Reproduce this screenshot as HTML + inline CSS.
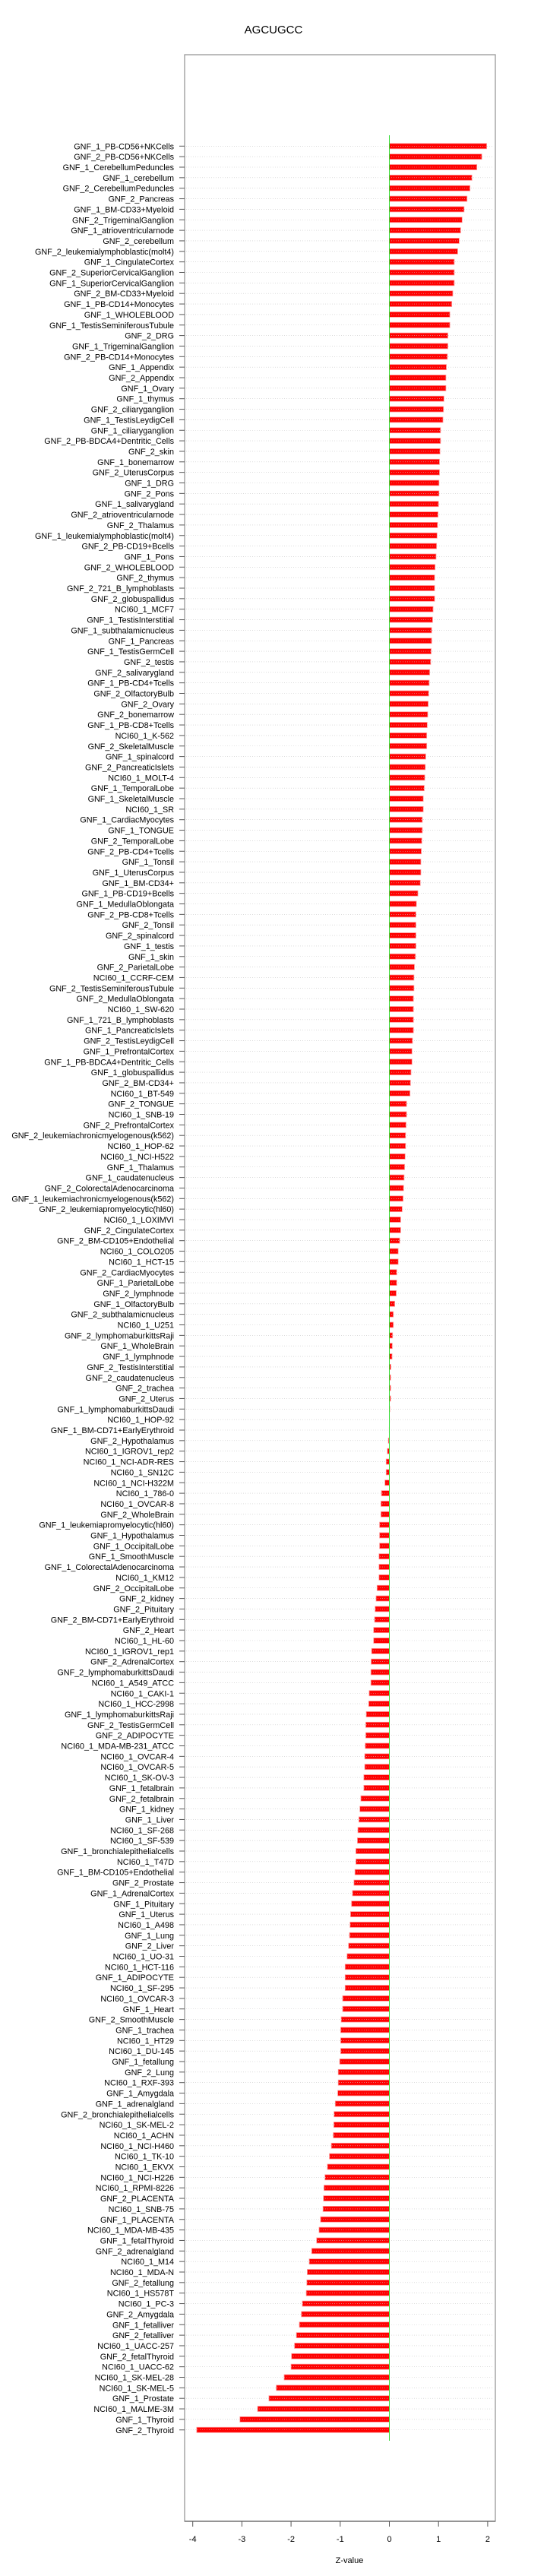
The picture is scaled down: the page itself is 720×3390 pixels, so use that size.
<!DOCTYPE html>
<html><head><meta charset="utf-8"><style>
html,body{margin:0;padding:0;background:#fff;}
svg{display:block;}
text{font-family:"Liberation Sans",sans-serif;}
</style></head><body>
<svg id="chart" width="720" height="3390" viewBox="0 0 720 3390" xmlns="http://www.w3.org/2000/svg">
<text x="360" y="44" text-anchor="middle" font-size="15">AGCUGCC</text>
<g id="plot"></g>
<text x="460" y="3373" text-anchor="middle" font-size="11">Z-value</text>
</svg>
<script>
const categories = ["GNF_1_PB-CD56+NKCells","GNF_2_PB-CD56+NKCells","GNF_1_CerebellumPeduncles","GNF_1_cerebellum","GNF_2_CerebellumPeduncles","GNF_2_Pancreas","GNF_1_BM-CD33+Myeloid","GNF_2_TrigeminalGanglion","GNF_1_atrioventricularnode","GNF_2_cerebellum","GNF_2_leukemialymphoblastic(molt4)","GNF_1_CingulateCortex",
"GNF_2_SuperiorCervicalGanglion","GNF_1_SuperiorCervicalGanglion","GNF_2_BM-CD33+Myeloid","GNF_1_PB-CD14+Monocytes","GNF_1_WHOLEBLOOD","GNF_1_TestisSeminiferousTubule","GNF_2_DRG","GNF_1_TrigeminalGanglion","GNF_2_PB-CD14+Monocytes","GNF_1_Appendix","GNF_2_Appendix","GNF_1_Ovary","GNF_1_thymus","GNF_2_ciliaryganglion","GNF_1_TestisLeydigCell","GNF_1_ciliaryganglion","GNF_2_PB-BDCA4+Dentritic_Cells","GNF_2_skin","GNF_1_bonemarrow",
"GNF_2_UterusCorpus","GNF_1_DRG","GNF_2_Pons","GNF_1_salivarygland","GNF_2_atrioventricularnode","GNF_2_Thalamus","GNF_1_leukemialymphoblastic(molt4)","GNF_2_PB-CD19+Bcells","GNF_1_Pons","GNF_2_WHOLEBLOOD","GNF_2_thymus","GNF_2_721_B_lymphoblasts","GNF_2_globuspallidus","NCI60_1_MCF7","GNF_1_TestisInterstitial","GNF_1_subthalamicnucleus","GNF_1_Pancreas","GNF_1_TestisGermCell","GNF_2_testis",
"GNF_2_salivarygland","GNF_1_PB-CD4+Tcells","GNF_2_OlfactoryBulb","GNF_2_Ovary","GNF_2_bonemarrow","GNF_1_PB-CD8+Tcells","NCI60_1_K-562","GNF_2_SkeletalMuscle","GNF_1_spinalcord","GNF_2_PancreaticIslets","NCI60_1_MOLT-4","GNF_1_TemporalLobe","GNF_1_SkeletalMuscle","NCI60_1_SR","GNF_1_CardiacMyocytes","GNF_1_TONGUE","GNF_2_TemporalLobe","GNF_2_PB-CD4+Tcells","GNF_1_Tonsil",
"GNF_1_UterusCorpus","GNF_1_BM-CD34+","GNF_1_PB-CD19+Bcells","GNF_1_MedullaOblongata","GNF_2_PB-CD8+Tcells","GNF_2_Tonsil","GNF_2_spinalcord","GNF_1_testis","GNF_1_skin","GNF_2_ParietalLobe","NCI60_1_CCRF-CEM","GNF_2_TestisSeminiferousTubule","GNF_2_MedullaOblongata","NCI60_1_SW-620","GNF_1_721_B_lymphoblasts","GNF_1_PancreaticIslets","GNF_2_TestisLeydigCell","GNF_1_PrefrontalCortex","GNF_1_PB-BDCA4+Dentritic_Cells","GNF_1_globuspallidus","GNF_2_BM-CD34+","NCI60_1_BT-549",
"GNF_2_TONGUE","NCI60_1_SNB-19","GNF_2_PrefrontalCortex","GNF_2_leukemiachronicmyelogenous(k562)","NCI60_1_HOP-62","NCI60_1_NCI-H522","GNF_1_Thalamus","GNF_1_caudatenucleus","GNF_2_ColorectalAdenocarcinoma","GNF_1_leukemiachronicmyelogenous(k562)","GNF_2_leukemiapromyelocytic(hl60)","NCI60_1_LOXIMVI","GNF_2_CingulateCortex","GNF_2_BM-CD105+Endothelial","NCI60_1_COLO205","NCI60_1_HCT-15","GNF_2_CardiacMyocytes","GNF_1_ParietalLobe","GNF_2_lymphnode","GNF_1_OlfactoryBulb","GNF_2_subthalamicnucleus",
"NCI60_1_U251","GNF_2_lymphomaburkittsRaji","GNF_1_WholeBrain","GNF_1_lymphnode","GNF_2_TestisInterstitial","GNF_2_caudatenucleus","GNF_2_trachea","GNF_2_Uterus","GNF_1_lymphomaburkittsDaudi","NCI60_1_HOP-92","GNF_1_BM-CD71+EarlyErythroid","GNF_2_Hypothalamus","NCI60_1_IGROV1_rep2","NCI60_1_NCI-ADR-RES","NCI60_1_SN12C","NCI60_1_NCI-H322M","NCI60_1_786-0","NCI60_1_OVCAR-8","GNF_2_WholeBrain","GNF_1_leukemiapromyelocytic(hl60)","GNF_1_Hypothalamus",
"GNF_1_OccipitalLobe","GNF_1_SmoothMuscle","GNF_1_ColorectalAdenocarcinoma","NCI60_1_KM12","GNF_2_OccipitalLobe","GNF_2_kidney","GNF_2_Pituitary","GNF_2_BM-CD71+EarlyErythroid","GNF_2_Heart","NCI60_1_HL-60","NCI60_1_IGROV1_rep1","GNF_2_AdrenalCortex","GNF_2_lymphomaburkittsDaudi","NCI60_1_A549_ATCC","NCI60_1_CAKI-1","NCI60_1_HCC-2998","GNF_1_lymphomaburkittsRaji","GNF_2_TestisGermCell","GNF_2_ADIPOCYTE","NCI60_1_MDA-MB-231_ATCC","NCI60_1_OVCAR-4","NCI60_1_OVCAR-5",
"NCI60_1_SK-OV-3","GNF_1_fetalbrain","GNF_2_fetalbrain","GNF_1_kidney","GNF_1_Liver","NCI60_1_SF-268","NCI60_1_SF-539","GNF_1_bronchialepithelialcells","NCI60_1_T47D","GNF_1_BM-CD105+Endothelial","GNF_2_Prostate","GNF_1_AdrenalCortex","GNF_1_Pituitary","GNF_1_Uterus","NCI60_1_A498","GNF_1_Lung","GNF_2_Liver","NCI60_1_UO-31","NCI60_1_HCT-116","GNF_1_ADIPOCYTE","NCI60_1_SF-295","NCI60_1_OVCAR-3",
"GNF_1_Heart","GNF_2_SmoothMuscle","GNF_1_trachea","NCI60_1_HT29","NCI60_1_DU-145","GNF_1_fetallung","GNF_2_Lung","NCI60_1_RXF-393","GNF_1_Amygdala","GNF_1_adrenalgland","GNF_2_bronchialepithelialcells","NCI60_1_SK-MEL-2","NCI60_1_ACHN","NCI60_1_NCI-H460","NCI60_1_TK-10","NCI60_1_EKVX","NCI60_1_NCI-H226","NCI60_1_RPMI-8226","GNF_2_PLACENTA","NCI60_1_SNB-75","GNF_1_PLACENTA","NCI60_1_MDA-MB-435","GNF_1_fetalThyroid",
"GNF_2_adrenalgland","NCI60_1_M14","NCI60_1_MDA-N","GNF_2_fetallung","NCI60_1_HS578T","NCI60_1_PC-3","GNF_2_Amygdala","GNF_1_fetalliver","GNF_2_fetalliver","NCI60_1_UACC-257","GNF_2_fetalThyroid","NCI60_1_UACC-62","NCI60_1_SK-MEL-28","NCI60_1_SK-MEL-5","GNF_1_Prostate","NCI60_1_MALME-3M","GNF_1_Thyroid","GNF_2_Thyroid"];
const zValues = [1.98,1.88,1.78,1.68,1.64,1.58,1.52,1.48,1.45,1.42,1.39,1.32,
1.32,1.32,1.29,1.27,1.23,1.23,1.19,1.19,1.18,1.16,1.15,1.15,1.11,1.10,1.09,1.04,1.04,1.03,1.02,
1.02,1.01,1.01,1.00,0.99,0.98,0.97,0.96,0.95,0.93,0.92,0.92,0.92,0.89,0.88,0.86,0.86,0.85,0.84,
0.82,0.81,0.80,0.79,0.78,0.77,0.76,0.76,0.74,0.73,0.72,0.71,0.69,0.69,0.67,0.67,0.66,0.65,0.64,
0.64,0.63,0.58,0.55,0.54,0.54,0.54,0.54,0.53,0.51,0.50,0.50,0.49,0.49,0.49,0.49,0.47,0.46,0.46,0.44,0.43,0.42,
0.35,0.35,0.34,0.33,0.33,0.32,0.31,0.30,0.29,0.28,0.26,0.23,0.23,0.21,0.18,0.18,0.15,0.15,0.14,0.11,0.08,
0.08,0.065,0.06,0.055,0.03,0.025,0.025,0.025,0.01,0.003,-0.003,-0.02,-0.04,-0.065,-0.065,-0.09,-0.16,-0.17,-0.17,-0.20,-0.20,
-0.20,-0.21,-0.21,-0.21,-0.25,-0.27,-0.29,-0.30,-0.32,-0.32,-0.36,-0.37,-0.375,-0.375,-0.41,-0.42,-0.47,-0.48,-0.48,-0.49,-0.50,-0.50,
-0.52,-0.52,-0.58,-0.60,-0.62,-0.64,-0.65,-0.68,-0.68,-0.70,-0.72,-0.75,-0.77,-0.79,-0.80,-0.81,-0.83,-0.86,-0.90,-0.90,-0.90,-0.95,
-0.95,-0.98,-0.99,-0.99,-0.99,-1.01,-1.04,-1.04,-1.05,-1.10,-1.125,-1.13,-1.14,-1.18,-1.22,-1.26,-1.31,-1.33,-1.34,-1.35,-1.40,-1.43,-1.48,
-1.58,-1.63,-1.67,-1.68,-1.69,-1.77,-1.79,-1.83,-1.89,-1.93,-1.99,-2.00,-2.14,-2.30,-2.45,-2.68,-3.04,-3.92];
const xTicks = [-4,-3,-2,-1,0,1,2];
const xTickLabels = ["-4","-3","-2","-1","0","1","2"];

const NS = "http://www.w3.org/2000/svg";
const plot = document.getElementById("plot");
const L = 243, R = 652, T = 72, B = 3318;
const x0 = 512.5, unit = 64.7;
const rowTop = 192.3, rowStep = 13.85;
function xScale(v){ return x0 + v*unit; }
function yScale(i){ return rowTop + i*rowStep; }
function mk(tag, attrs){ const e=document.createElementNS(NS,tag); for(const k in attrs) e.setAttribute(k, attrs[k]); plot.appendChild(e); return e; }

// frame
const frame = mk("rect",{x:L,y:T,width:R-L,height:B-T,fill:"none",stroke:"#999","stroke-width":1.3});



// bars
categories.forEach((c,i)=>{
  const y = yScale(i), v = zValues[i];
  const xa = Math.min(xScale(0), xScale(v)), w = Math.abs(xScale(v)-xScale(0));
  const bar = mk("rect",{x:xa,y:y-3.5,width:w,height:7,fill:"#ff0000",stroke:"#ff9a9a","stroke-width":0.8});
  
  
  const grid = mk("line",{x1:L+2,x2:R-2,y1:y,y2:y,stroke:"#c8c8c8","stroke-width":0.6,"stroke-dasharray":"1,2"});
  
  
  const tk = mk("line",{x1:L-7,x2:L,y1:y,y2:y,stroke:"#555","stroke-width":1});
  
  
  const lab = mk("text",{x:L-14,y:y+4,"text-anchor":"end","font-size":"10.8"});
  lab.textContent = c;
  
  
});

// zero line
const zl = mk("line",{x1:xScale(0),x2:xScale(0),y1:178,y2:3212,stroke:"#33dd33","stroke-width":1});



// x axis
const ax = mk("line",{x1:L,x2:R,y1:B,y2:B,stroke:"#666","stroke-width":1.3});


xTicks.forEach((t,k)=>{
  const xt = xScale(t);
  const tl = mk("line",{x1:xt,x2:xt,y1:B,y2:B+7,stroke:"#555","stroke-width":1});
  
  
  const tx = mk("text",{x:xt,y:B+27,"text-anchor":"middle","font-size":"11"});
  tx.textContent = xTickLabels[k];
  
  
});
</script>
</body></html>
